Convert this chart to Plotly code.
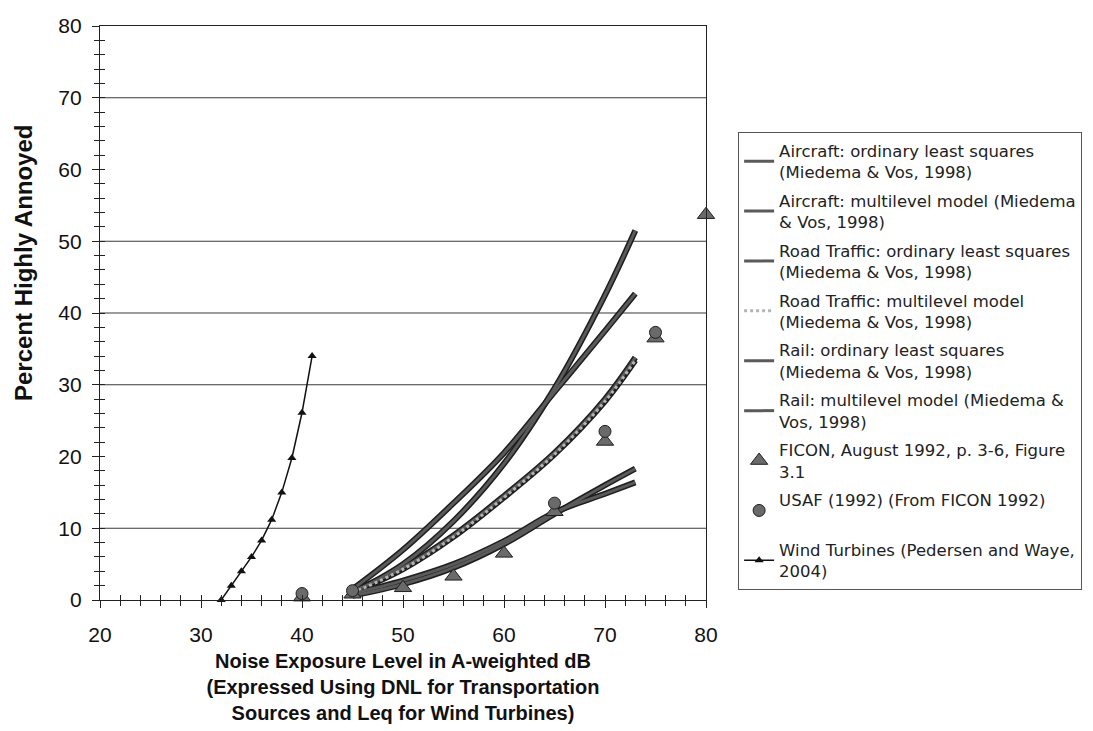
import plotly.graph_objects as go

# ---------------- data ----------------
curve_x = [45, 50, 55, 60, 65, 70, 73]
aircraft_ols = [1.0, 5.0, 11.0, 19.0, 29.5, 42.5, 51.5]
aircraft_ml = [1.5, 7.0, 13.5, 20.5, 29.0, 37.5, 42.7]
road_ols = [1.2, 4.5, 9.0, 14.5, 20.5, 28.0, 33.8]
road_ml = [1.0, 4.3, 8.8, 14.3, 20.3, 27.7, 33.4]
rail_ols = [0.6, 2.2, 4.5, 7.8, 12.0, 16.0, 18.3]
rail_ml = [0.9, 2.7, 5.0, 8.2, 12.2, 14.8, 16.4]

ficon_x = [40, 45, 50, 55, 60, 65, 70, 75, 80]
ficon_y = [0.4, 0.8, 1.7, 3.3, 6.5, 12.3, 22.1, 36.5, 53.7]

usaf_x = [40, 45, 65, 70, 75]
usaf_y = [0.9, 1.3, 13.5, 23.5, 37.3]

wind_x = [32, 33, 34, 35, 36, 37, 38, 39, 40, 41]
wind_y = [0.0, 2.0, 4.0, 6.0, 8.3, 11.2, 15.0, 19.8, 26.1, 34.0]

grid_y = [10, 30, 40, 50, 70]

x_ticks = [20, 30, 40, 50, 60, 70, 80]
y_ticks = [0, 10, 20, 30, 40, 50, 60, 70, 80]

names = [
    "Aircraft: ordinary least squares<br>(Miedema & Vos, 1998)",
    "Aircraft: multilevel model (Miedema<br>& Vos, 1998)",
    "Road Traffic: ordinary least squares<br>(Miedema & Vos, 1998)",
    "Road Traffic: multilevel model<br>(Miedema & Vos, 1998)",
    "Rail: ordinary least squares<br>(Miedema & Vos, 1998)",
    "Rail: multilevel model (Miedema &<br>Vos, 1998)",
]
ficon_name = "FICON, August 1992, p. 3-6, Figure<br>3.1"
usaf_name = "USAF (1992) (From FICON 1992)<br> "
wind_name = "Wind Turbines (Pedersen and Waye,<br>2004)"

x_title = "<b>Noise Exposure Level in A-weighted dB<br>(Expressed Using DNL for Transportation<br>Sources and Leq for Wind Turbines)</b>"
y_title = "<b>Percent Highly Annoyed</b>"

FONT = "Liberation Sans, Arial, sans-serif"
LEGFONT = "DejaVu Sans, Liberation Sans, sans-serif"

fig = go.Figure()

curves = [aircraft_ols, aircraft_ml, road_ols, road_ml, rail_ols, rail_ml]
inner_colors = ["#5a5a5a", "#5a5a5a", "#5a5a5a", "#b4b4b4", "#5a5a5a", "#5a5a5a"]
inner_dash = ["solid", "solid", "solid", "dot", "solid", "solid"]

# dark outlines
for ys in curves:
    fig.add_trace(go.Scatter(x=curve_x, y=ys, mode="lines", line=dict(color="#1e1e1e", width=6, shape="spline"),
                             showlegend=False, hoverinfo="skip"))
# inner textured lines
for i, (ys, nm, c, d) in enumerate(zip(curves, names, inner_colors, inner_dash)):
    fig.add_trace(go.Scatter(x=curve_x, y=ys, mode="lines", name=nm, legendgroup=f"g{i}",
                             line=dict(color=c, width=3, shape="spline", dash=d)))

fig.add_trace(go.Scatter(x=ficon_x, y=ficon_y, mode="markers", name=ficon_name, cliponaxis=False,
                         legendgroup="g6",
                         marker=dict(symbol="triangle-up", size=15, color="#6a6a6a",
                                     line=dict(color="#1e1e1e", width=1))))
fig.add_trace(go.Scatter(x=usaf_x, y=usaf_y, mode="markers", name=usaf_name, cliponaxis=False,
                         legendgroup="g7",
                         marker=dict(symbol="circle", size=12, color="#6a6a6a",
                                     line=dict(color="#1e1e1e", width=1))))
fig.add_trace(go.Scatter(x=wind_x, y=wind_y, mode="lines+markers", name=wind_name, cliponaxis=False,
                         legendgroup="g8",
                         line=dict(color="#111111", width=1.5),
                         marker=dict(symbol="triangle-up", size=8, color="#111111")))

# overlay axes for the inner half of the crossing ticks
fig.add_trace(go.Scatter(x=[], y=[], xaxis="x2", yaxis="y2", showlegend=False))

for g in grid_y:
    fig.add_hline(y=g, line=dict(color="#3a3a3a", width=1.2), layer="below")

fig.add_annotation(text=y_title, textangle=-90, xref="paper", yref="y", x=-0.125, y=47,
                   xanchor="center", yanchor="middle", showarrow=False,
                   font=dict(family=FONT, size=24, color="#111"))

fig.update_layout(
    width=1093, height=731,
    margin=dict(l=92, r=395, t=18, b=139, autoexpand=False),
    paper_bgcolor="white", plot_bgcolor="white",
    font=dict(family=FONT, color="#111111"),
    showlegend=True,
    legend=dict(x=1.053, y=0.815, xanchor="left", yanchor="top",
                bordercolor="#555555", borderwidth=1, bgcolor="white",
                font=dict(family=LEGFONT, size=16.5, color="#222222"),
                tracegroupgap=4, itemwidth=30),
    xaxis=dict(range=[20, 80], tickmode="array", tickvals=x_ticks,
               ticks="outside", ticklen=7, tickcolor="#222", tickwidth=1,
               minor=dict(dtick=2, tick0=20, ticks="outside", ticklen=5, tickcolor="#222"),
               showline=True, linecolor="#222", linewidth=1.2, mirror=True,
               showgrid=False, zeroline=False, ticklabelstandoff=9,
               tickfont=dict(family=FONT, size=21, color="#111"),
               title=dict(text=x_title, font=dict(family=FONT, size=20, color="#111"), standoff=8)),
    yaxis=dict(range=[0, 80], tickmode="array", tickvals=y_ticks,
               ticks="outside", ticklen=7, tickcolor="#222", tickwidth=1,
               minor=dict(dtick=2, tick0=0, ticks="outside", ticklen=5, tickcolor="#222"),
               showline=True, linecolor="#222", linewidth=1.2, mirror=True,
               showgrid=False, zeroline=False, ticklabelstandoff=6,
               tickfont=dict(family=FONT, size=21, color="#111")),
    xaxis2=dict(range=[20, 80], overlaying="x", anchor="y2", side="bottom",
                tick0=20, dtick=2, ticks="inside", ticklen=5, tickcolor="#222",
                showticklabels=False, showgrid=False, zeroline=False, showline=False),
    yaxis2=dict(range=[0, 80], overlaying="y", anchor="x2", side="left",
                tick0=0, dtick=2, ticks="inside", ticklen=5, tickcolor="#222",
                showticklabels=False, showgrid=False, zeroline=False, showline=False),
)

fig.write_html("out.html")
